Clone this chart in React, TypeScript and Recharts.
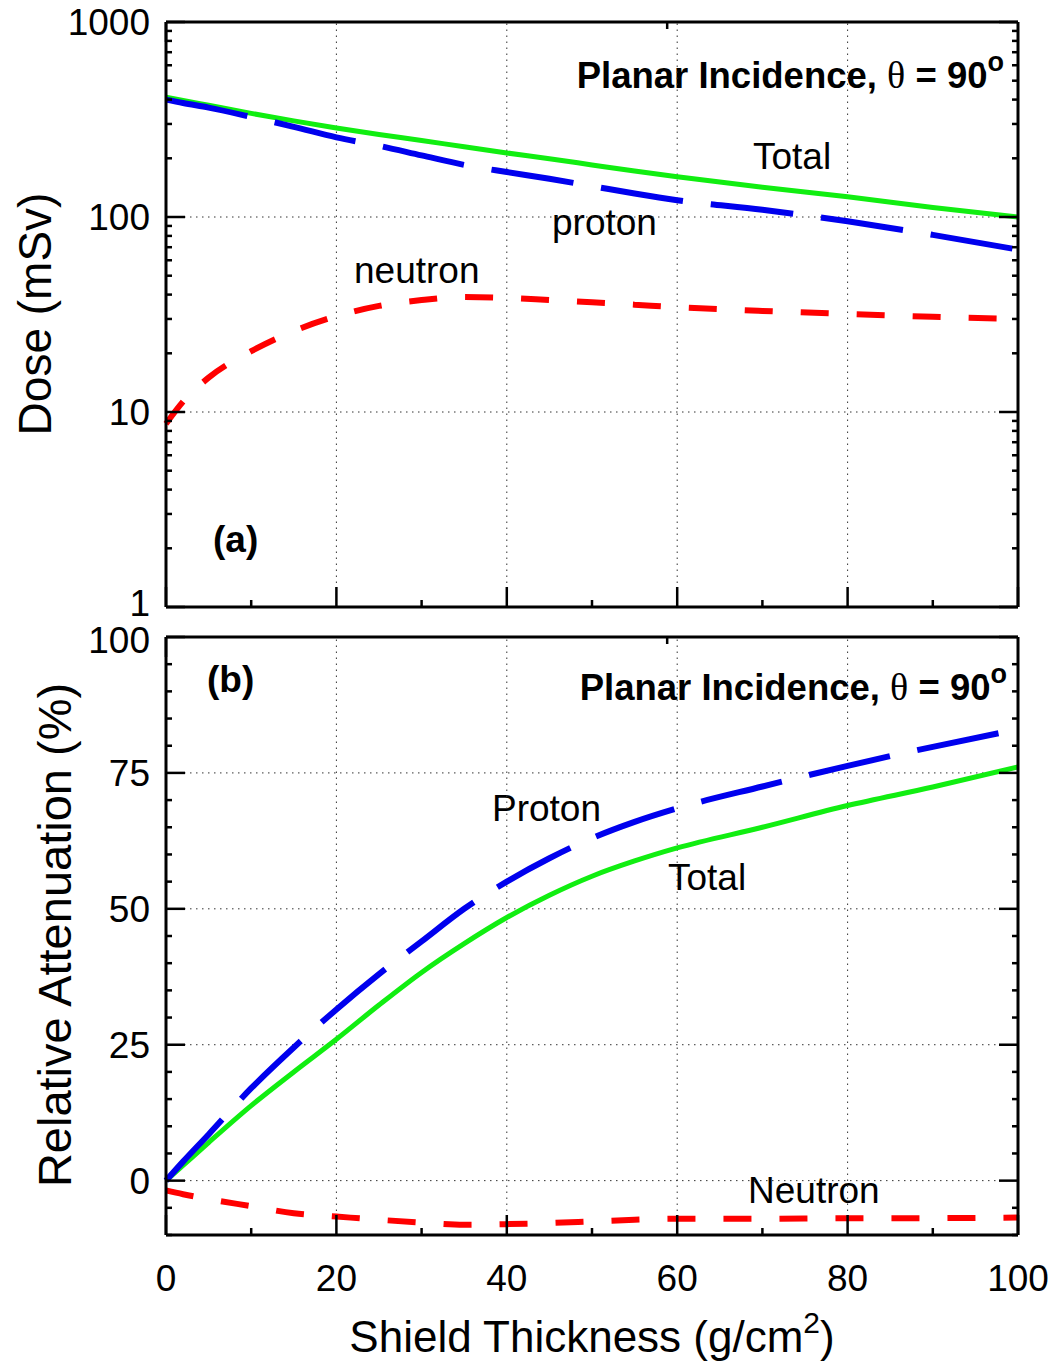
import React from "react";
import { LineChart, Line, XAxis, YAxis, ReferenceLine } from "recharts";

// shield thickness (g/cm2)
const thickness = [0, 2, 5, 10, 15, 20, 25, 30, 35, 40, 45, 50, 55, 60, 70, 80, 90, 100];

// (a) dose, mSv
const doseTotal = [412, 396, 374, 340, 311, 286, 265, 247, 229, 213, 199, 185, 172, 161, 142, 127, 112, 100];
const doseProton = [400, 384, 364, 326, 290, 256, 232, 207, 185, 170, 157, 144, 132, 122, 109, 95, 81, 68];
const doseNeutron = [8.7, 11.3, 15, 20.5, 26, 31, 35, 37.5, 38.9, 38.5, 37.5, 36.5, 35.5, 34.5, 33, 31.8, 30.8, 30];

// (b) relative attenuation, %
const attenProton = [0, 3.5, 8.5, 17, 24.5, 31.5, 38, 44, 50, 55, 59.3, 63, 66, 68.5, 72.5, 76.3, 79.8, 83];
const attenTotal = [0, 2.8, 7, 13.8, 20, 26, 32.3, 38.3, 43.6, 48.4, 52.5, 56, 58.8, 61.2, 65, 69, 72.4, 76.1];
const attenNeutron = [-1.8, -2.5, -3.4, -4.7, -6.0, -6.6, -7.2, -7.7, -8.1, -8.0, -7.8, -7.5, -7.2, -7.0, -7.0, -6.9, -6.9, -6.8];

const xTicks = [0, 10, 20, 30, 40, 50, 60, 70, 80, 90, 100];
const xGrid = [20, 40, 60, 80];
const logTicks = [1, 2, 3, 4, 5, 6, 7, 8, 9, 10, 20, 30, 40, 50, 60, 70, 80, 90, 100, 200, 300, 400, 500, 600, 700, 800, 900, 1000];
const logGrid = [10, 100];
const attenTicks = [-10, -5, 0, 5, 10, 15, 20, 25, 30, 35, 40, 45, 50, 55, 60, 65, 70, 75, 80, 85, 90, 95, 100];
const attenGrid = [0, 25, 50, 75];

const topData = thickness.map((t, i) => ({ t, total: doseTotal[i], proton: doseProton[i], neutron: doseNeutron[i] }));
const botData = thickness.map((t, i) => ({ t, total: attenTotal[i], proton: attenProton[i], neutron: attenNeutron[i] }));

const FONT = "'Liberation Sans', Arial, Helvetica, sans-serif";
const axisLine = { stroke: "#000", strokeWidth: 3 };
const GREEN = "#11ee11";
const BLUE = "#0000ee";
const RED = "#ff0000";

const isLogMajor = (v: number) => Math.abs(Math.log10(v) - Math.round(Math.log10(v))) < 1e-9;
const isAttenMajor = (v: number) => v >= 0 && v % 25 === 0;

function xTick(dir: number, showLabel: boolean) {
  return (p: any) => {
    const v = p.payload.value;
    const major = v % 20 === 0;
    const len = major ? 20 : 7;
    return (
      <g>
        <line x1={p.x} x2={p.x} y1={p.y} y2={p.y + dir * len} stroke="#000" strokeWidth={2.5} />
        {showLabel && major && (
          <text x={p.x} y={p.y + 56} textAnchor="middle" fontSize={37} fontFamily={FONT} fill="#000">
            {v}
          </text>
        )}
      </g>
    );
  };
}

// shift: small vertical nudge for the end labels, where the two panels meet
function yTick(dir: number, isMajor: (v: number) => boolean, showLabel: boolean, shift?: (v: number) => number) {
  return (p: any) => {
    const v = p.payload.value;
    const major = isMajor(v);
    const len = major ? 19 : 6;
    const dy = shift ? shift(v) : 0;
    return (
      <g>
        <line x1={p.x} x2={p.x + dir * len} y1={p.y} y2={p.y} stroke="#000" strokeWidth={2.5} />
        {showLabel && major && (
          <text x={p.x - 16} y={p.y + 13 + dy} textAnchor="end" fontSize={37} fontFamily={FONT} fill="#000">
            {v}
          </text>
        )}
      </g>
    );
  };
}

const halo = { stroke: "#fff", strokeWidth: 10, paintOrder: "stroke" as any };

function Title({ x, y }: { x: number; y: number }) {
  return (
    <text x={x} y={y} textAnchor="end" fontSize={36.5} fontWeight="bold" fontFamily={FONT} fill="#000" {...halo}>
      Planar Incidence,{" "}
      <tspan fontFamily="'Liberation Serif', 'Times New Roman', serif" fontWeight="normal" fontSize={38}>
        θ
      </tspan>{" "}
      = 90
      <tspan dy={-17} fontSize={27}>
        o
      </tspan>
    </text>
  );
}

const label = (x: number, y: number, s: string, bold = false) => (
  <text x={x} y={y} fontSize={37} fontWeight={bold ? "bold" : "normal"} fontFamily={FONT} fill="#000" {...halo}>
    {s}
  </text>
);

export default function App() {
  return (
    <div style={{ position: "absolute", left: 0, top: 0, width: 1059, height: 1363, background: "#fff" }}>
      <div style={{ position: "absolute", left: 0, top: 0 }}>
        <LineChart width={1059} height={625} data={topData} margin={{ top: 12, right: 31, bottom: 8, left: 106 }}>
          <XAxis xAxisId="b" dataKey="t" type="number" domain={[0, 100]} ticks={xTicks} interval={0} height={10}
            axisLine={axisLine} tickLine={false} tickSize={0} tickMargin={0} tick={xTick(-1, false)} />
          <XAxis xAxisId="top" orientation="top" type="number" domain={[0, 100]} ticks={xTicks} interval={0} height={10}
            axisLine={axisLine} tickLine={false} tickSize={0} tickMargin={0} tick={xTick(1, false)} />
          <YAxis yAxisId="l" scale="log" type="number" domain={[1, 1000]} allowDataOverflow ticks={logTicks} interval={0} width={60}
            axisLine={axisLine} tickLine={false} tickSize={0} tickMargin={0}
            tick={yTick(1, isLogMajor, true, (v) => (v === 1 ? -4 : 0))} />
          <YAxis yAxisId="r" orientation="right" scale="log" type="number" domain={[1, 1000]} allowDataOverflow ticks={logTicks} interval={0} width={10}
            axisLine={axisLine} tickLine={false} tickSize={0} tickMargin={0} tick={yTick(-1, isLogMajor, false)} />
          {xGrid.map((v) => (
            <ReferenceLine key={"x" + v} xAxisId="b" yAxisId="l" x={v} stroke="#333" strokeWidth={1} strokeDasharray="1.5 4.5" />
          ))}
          {logGrid.map((v) => (
            <ReferenceLine key={"y" + v} xAxisId="b" yAxisId="l" y={v} stroke="#333" strokeWidth={1} strokeDasharray="1.5 4.5" />
          ))}
          <Line xAxisId="b" yAxisId="l" type="monotone" dataKey="total" stroke={GREEN} strokeWidth={5} dot={false} isAnimationActive={false} />
          <Line xAxisId="b" yAxisId="l" type="monotone" dataKey="proton" stroke={BLUE} strokeWidth={6} strokeDasharray="83 28" dot={false} isAnimationActive={false} />
          <Line xAxisId="b" yAxisId="l" type="monotone" dataKey="neutron" stroke={RED} strokeWidth={6} strokeDasharray="28 28" dot={false} isAnimationActive={false} />
          <Title x={1004} y={88} />
          {label(753, 169, "Total")}
          {label(552, 235, "proton")}
          {label(354, 283, "neutron")}
          {label(213, 552, "(a)", true)}
          <text transform="translate(51,314) rotate(-90)" textAnchor="middle" fontSize={46} fontFamily={FONT} fill="#000">
            Dose (mSv)
          </text>
        </LineChart>
      </div>
      <div style={{ position: "absolute", left: 0, top: 620 }}>
        <LineChart width={1059} height={743} data={botData} margin={{ top: 7, right: 31, bottom: 28, left: 106 }}>
          <XAxis xAxisId="b" dataKey="t" type="number" domain={[0, 100]} ticks={xTicks} interval={0} height={100}
            axisLine={axisLine} tickLine={false} tickSize={0} tickMargin={0} tick={xTick(-1, true)} />
          <XAxis xAxisId="top" orientation="top" type="number" domain={[0, 100]} ticks={xTicks} interval={0} height={10}
            axisLine={axisLine} tickLine={false} tickSize={0} tickMargin={0} tick={xTick(1, false)} />
          <YAxis yAxisId="l" type="number" domain={[-10, 100]} allowDataOverflow ticks={attenTicks} interval={0} width={60}
            axisLine={axisLine} tickLine={false} tickSize={0} tickMargin={0}
            tick={yTick(1, isAttenMajor, true, (v) => (v === 100 ? 3 : 0))} />
          <YAxis yAxisId="r" orientation="right" type="number" domain={[-10, 100]} allowDataOverflow ticks={attenTicks} interval={0} width={10}
            axisLine={axisLine} tickLine={false} tickSize={0} tickMargin={0} tick={yTick(-1, isAttenMajor, false)} />
          {xGrid.map((v) => (
            <ReferenceLine key={"x" + v} xAxisId="b" yAxisId="l" x={v} stroke="#333" strokeWidth={1} strokeDasharray="1.5 4.5" />
          ))}
          {attenGrid.map((v) => (
            <ReferenceLine key={"y" + v} xAxisId="b" yAxisId="l" y={v} stroke="#333" strokeWidth={1} strokeDasharray="1.5 4.5" />
          ))}
          <Line xAxisId="b" yAxisId="l" type="monotone" dataKey="total" stroke={GREEN} strokeWidth={5} dot={false} isAnimationActive={false} />
          <Line xAxisId="b" yAxisId="l" type="monotone" dataKey="proton" stroke={BLUE} strokeWidth={6} strokeDasharray="83 28" dot={false} isAnimationActive={false} />
          <Line xAxisId="b" yAxisId="l" type="monotone" dataKey="neutron" stroke={RED} strokeWidth={6} strokeDasharray="28 28" dot={false} isAnimationActive={false} />
          <Title x={1007} y={80} />
          {label(207, 72, "(b)", true)}
          {label(492, 201, "Proton")}
          {label(668, 270, "Total")}
          {label(748, 583, "Neutron")}
          <text transform="translate(71,315) rotate(-90)" textAnchor="middle" fontSize={47} fontFamily={FONT} fill="#000">
            Relative Attenuation (%)
          </text>
          <text x={592} y={732} textAnchor="middle" fontSize={44} fontFamily={FONT} fill="#000">
            Shield Thickness (g/cm
            <tspan dy={-19} fontSize={30}>2</tspan>
            <tspan dy={19}>)</tspan>
          </text>
        </LineChart>
      </div>
    </div>
  );
}
